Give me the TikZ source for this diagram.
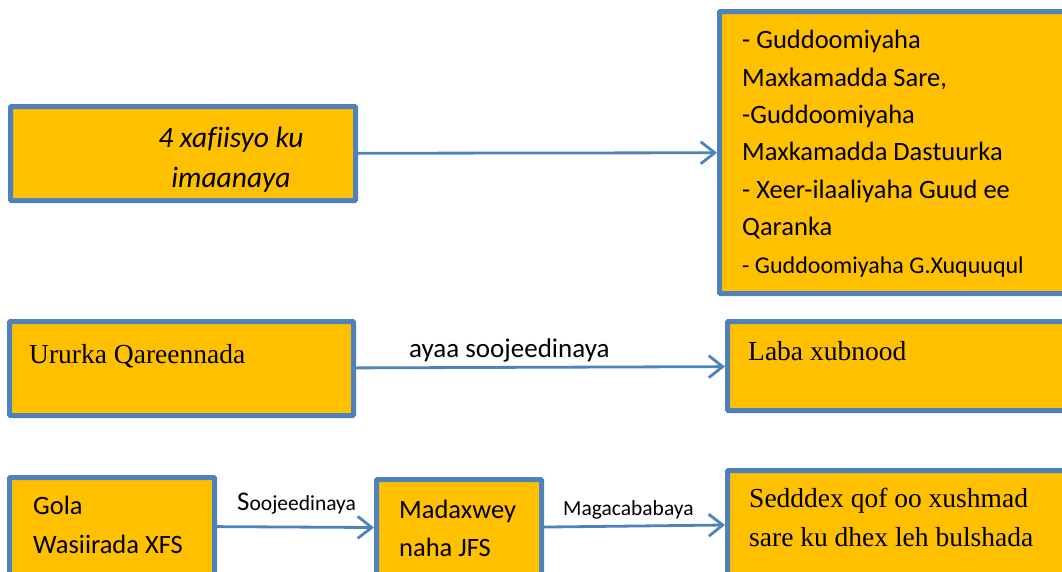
\documentclass[tikz,border=0pt]{standalone}
\usepackage{fontspec}
\setmainfont{Carlito}[Ligatures=NoCommon]
\newfontfamily\garfont{Liberation Serif}
\usetikzlibrary{arrows.meta}
\definecolor{boxfill}{HTML}{FFC000}
\definecolor{boxline}{HTML}{4F81BD}
\begin{document}
\begin{tikzpicture}[x=1pt,y=-1pt,
  box/.style={draw=boxline, fill=boxfill, line width=5pt, rounded corners=1pt, inner sep=0pt},
  conn/.style={draw=boxline, line width=2.8pt, -{Straight Barb[length=14pt,width=22pt,line width=2.8pt]}},
  txt/.style={inner sep=0pt, anchor=base west, align=left, text=black},
  lbl/.style={inner sep=0pt, anchor=base west, text=black}]
\useasboundingbox (0,0) rectangle (1062,571);
\clip (0,0) rectangle (1062,571);
% boxes
\node[box, minimum width=345pt, minimum height=94pt] (b1) at (183,153.5) {};
\node[box, minimum width=355.5pt, minimum height=282pt] (b2) at (897.25,152.5) {};
\node[box, minimum width=344pt, minimum height=94pt] (b3) at (181.5,368.5) {};
\node[box, minimum width=347.5pt, minimum height=89pt] (b4) at (901.25,366) {};
\node[box, minimum width=205pt, minimum height=97pt] (b5) at (112,526) {};
\node[box, minimum width=165pt, minimum height=97pt] (b6) at (459,528) {};
\node[box, minimum width=347.5pt, minimum height=105pt] (b7) at (901.25,523) {};
% texts (base anchor = baseline of the last line)
\node[inner sep=0pt, anchor=base, align=center, font=\fontsize{29.5}{40}\selectfont\itshape] (t1) at (231,187) {4 xafiisyo ku\\imaanaya};
\node[txt, font=\fontsize{26.5}{37.4}\selectfont] (t2) at (742,273)
  {- Guddoomiyaha\\Maxkamadda Sare,\\-Guddoomiyaha\\Maxkamadda Dastuurka\\- Xeer-ilaaliyaha Guud ee\\Qaranka\\{\fontsize{24}{37.4}\selectfont - Guddoomiyaha G.Xuquuqul}};
\node[txt, font=\fontsize{27.5}{39}\selectfont\garfont] (t3) at (29,363) {Ururka Qareennada};
\node[txt, font=\fontsize{27.5}{39}\selectfont\garfont] (t4) at (748,360) {Laba xubnood};
\node[txt, font=\fontsize{26.5}{39}\selectfont] (t5) at (33,553) {Gola\\Wasiirada XFS};
\node[txt, font=\fontsize{26.5}{38}\selectfont] (t6) at (399,556) {Madaxwey\\naha JFS};
\node[txt, font=\fontsize{27.5}{39}\selectfont\garfont] (t7) at (749,546) {Sedddex qof oo xushmad\\sare ku dhex leh bulshada};
% connector labels
\node[lbl, font=\fontsize{27}{30}\selectfont] (l1) at (409,357) {ayaa soojeedinaya};
\node[lbl, font=\fontsize{21.5}{24}\selectfont] (l2) at (237,510) {{\fontsize{27}{30}\selectfont S}oojeedinaya};
\node[lbl, font=\fontsize{21.5}{24}\selectfont] (l3) at (563,515) {Magacababaya};
% connectors
\draw[conn] (b1) -- (b2);
\draw[conn] (b3) -- (b4);
\draw[conn] (b5) -- (b6);
\draw[conn] (b6) -- (b7);
\end{tikzpicture}
\end{document}
